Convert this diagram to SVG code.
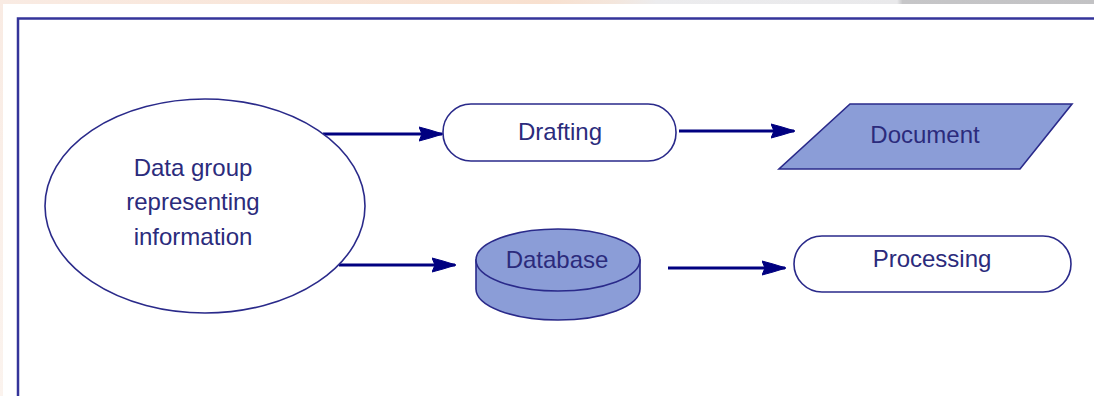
<svg xmlns="http://www.w3.org/2000/svg" width="1094" height="396" viewBox="0 0 1094 396">
  <defs>
    <linearGradient id="band" x1="0" y1="0" x2="1" y2="0">
      <stop offset="0" stop-color="#f9ebe3"/>
      <stop offset="0.5" stop-color="#f8e0cf"/>
      <stop offset="0.56" stop-color="#f4e6dc"/>
      <stop offset="0.6" stop-color="#ececee"/>
      <stop offset="0.82" stop-color="#e9e9eb"/>
      <stop offset="0.825" stop-color="#c6c6c8"/>
      <stop offset="1" stop-color="#c2c2c4"/>
    </linearGradient>
    <linearGradient id="side" x1="0" y1="0" x2="0" y2="1">
      <stop offset="0" stop-color="#f9ebe3"/>
      <stop offset="1" stop-color="#fbf3ee"/>
    </linearGradient>
    <marker id="arrow" viewBox="0 0 24 16" refX="23" refY="8" markerWidth="24" markerHeight="16" markerUnits="userSpaceOnUse" orient="auto">
      <path d="M0,1 L11,4 L24,8 L11,12 L0,15 L3,8 Z" fill="#000080" stroke="#000080" stroke-width="1" stroke-linejoin="round"/>
    </marker>
  </defs>
  <style>
    .shape { stroke: #2a2a8a; stroke-width: 1.6; }
    .white { fill: #ffffff; }
    .blue { fill: #8b9dd7; }
    .label { font-family: "Liberation Sans", Arial, sans-serif; font-size: 24px; fill: #2b2b7c; text-anchor: middle; }
    .conn { stroke: #000080; stroke-width: 3; fill: none; marker-end: url(#arrow); }
  </style>

  <rect x="0" y="0" width="1094" height="396" fill="url(#side)"/>
  <rect x="0" y="0" width="1094" height="4" fill="url(#band)"/>
  <rect x="3" y="4" width="1091" height="392" fill="#ffffff"/>
  <rect x="18" y="18.5" width="1100" height="400" fill="#ffffff" stroke="#34349a" stroke-width="2.5"/>

  <g id="connectors">
    <path class="conn" d="M323,134 L442,134"/>
    <path class="conn" d="M679,131 L794,131"/>
    <path class="conn" d="M339,265 L455,265"/>
    <path class="conn" d="M668,268 L785,268"/>
  </g>

  <g id="node-data-group">
    <ellipse class="shape white" cx="205" cy="206" rx="160" ry="107"/>
    <text class="label" x="193" y="176">Data group</text>
    <text class="label" x="193" y="210">representing</text>
    <text class="label" x="193" y="245">information</text>
  </g>

  <g id="node-drafting">
    <rect class="shape white" x="443" y="104" width="233" height="57" rx="28" ry="28"/>
    <text class="label" x="560" y="140">Drafting</text>
  </g>

  <g id="node-document">
    <polygon class="shape blue" points="850,104 1072,104 1020,169 779,169"/>
    <text class="label" x="925" y="143">Document</text>
  </g>

  <g id="node-database">
    <path class="shape blue" d="M476,260 L476,289 A82,31 0 0 0 640,289 L640,260 Z"/>
    <ellipse class="shape blue" cx="558" cy="260" rx="82" ry="31"/>
    <text class="label" x="557" y="268">Database</text>
  </g>

  <g id="node-processing">
    <rect class="shape white" x="794" y="236" width="277" height="56" rx="28" ry="28"/>
    <text class="label" x="932" y="267">Processing</text>
  </g>
</svg>
